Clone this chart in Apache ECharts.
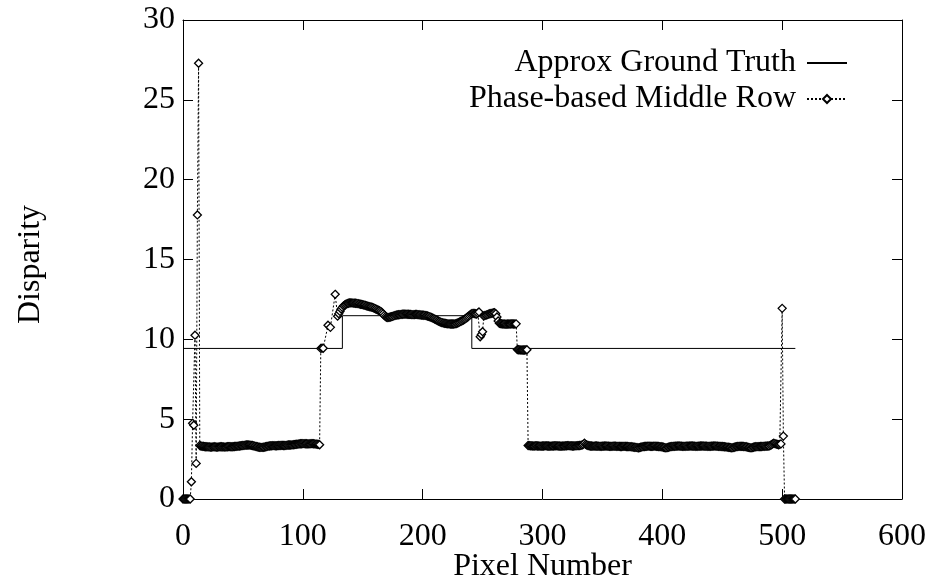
<!DOCTYPE html>
<html>
<head>
<meta charset="utf-8">
<script src="https://cdn.jsdelivr.net/npm/echarts@6/dist/echarts.min.js"></script>
<style>
  html, body { margin: 0; padding: 0; background: #fff; }
  #chart { width: 930px; height: 580px; }
</style>
</head>
<body>
<div id="chart"></div>
<script>
// Axis ticks
const xTicks = [0, 100, 200, 300, 400, 500, 600];
const yTicks = [0, 5, 10, 15, 20, 25, 30];

// Approximate ground truth: step levels starting at each breakpoint
const gtPixel = [0, 133, 241, 511];
const gtDisparity = [9.43, 11.48, 9.43, 9.43];

// Phase-based disparity along the middle row
const leftPixels = [0, 1, 2, 3, 4, 5, 6, 7, 8, 9, 10, 11, 12, 13];
const leftValues = [0, 0, 0, 0, 0, 0, 0, 1.08, 4.74, 4.62, 10.26, 2.23, 17.79, 27.29];

const band1Start = 14; // pixels 14..114
const band1Values = [
  3.35, 3.32, 3.3, 3.3, 3.28, 3.27,
  3.27, 3.26, 3.26, 3.25, 3.25, 3.26, 3.27, 3.26, 3.25, 3.25,
  3.26, 3.27, 3.27, 3.26, 3.26, 3.25, 3.26, 3.27, 3.28, 3.28,
  3.27, 3.27, 3.28, 3.29, 3.3, 3.3, 3.31, 3.32, 3.33, 3.34,
  3.35, 3.36,
  3.37, 3.38, 3.38, 3.38, 3.37, 3.36, 3.35, 3.33, 3.31, 3.29, 3.27,
  3.25, 3.24, 3.23, 3.23, 3.24, 3.25, 3.27, 3.29, 3.31,
  3.32, 3.33, 3.33, 3.34, 3.34, 3.33, 3.33, 3.34, 3.35, 3.35,
  3.36, 3.36, 3.35, 3.35, 3.36, 3.37, 3.38, 3.38, 3.38, 3.39,
  3.4, 3.41, 3.42, 3.43, 3.44,
  3.45, 3.46, 3.46, 3.47, 3.47, 3.46, 3.46, 3.45, 3.45, 3.46,
  3.47, 3.47, 3.46, 3.45, 3.44, 3.43, 3.42, 3.4
];

const risePixels = [115, 116, 117, 121, 123, 127, 129, 130, 131, 132, 133];
const riseValues = [9.43, 9.45, 9.44, 10.88, 10.75, 12.82, 11.45, 11.6, 11.75, 11.9, 12.0];

const humpStart = 134; // pixels 134..247
const humpValues = [
  12.1, 12.15, 12.2, 12.24, 12.26, 12.28,
  12.28, 12.28, 12.27, 12.27, 12.26, 12.25, 12.24, 12.22, 12.2, 12.19,
  12.17, 12.15, 12.13, 12.1, 12.08, 12.06, 12.04, 12.02, 12.0, 11.97,
  11.94, 11.9, 11.86, 11.82, 11.79, 11.74, 11.68, 11.6, 11.5, 11.42,
  11.38, 11.37, 11.38, 11.4, 11.42, 11.44, 11.47, 11.5, 11.52, 11.53,
  11.54, 11.55, 11.56, 11.57, 11.58, 11.58, 11.58, 11.57, 11.57, 11.56,
  11.56, 11.55, 11.55, 11.55, 11.56, 11.56, 11.55, 11.54, 11.53, 11.52,
  11.52, 11.51, 11.5, 11.48, 11.46, 11.44, 11.41, 11.38, 11.34, 11.31,
  11.27, 11.23, 11.19, 11.15, 11.11, 11.08, 11.05, 11.03, 11.01, 11.0,
  10.98, 10.97, 10.97, 10.96, 10.96, 10.96, 10.96, 10.97, 10.99, 11.02,
  11.05, 11.09, 11.13, 11.17, 11.21, 11.26, 11.31, 11.37, 11.43, 11.5,
  11.56, 11.61, 11.63, 11.62, 11.6, 11.58, 11.64, 11.71
];

const fallStart = 248; // pixels 248..287
const fallValues = [
  10.16, 10.3, 10.48,
  11.46, 11.5, 11.52, 11.55, 11.58, 11.6, 11.62, 11.64, 11.66, 11.67, 11.6,
  11.4, 11.15, 11.0,
  10.98, 10.97, 10.96, 10.96, 10.95, 10.95, 10.96, 10.96, 10.96, 10.97,
  10.97, 10.96, 10.96, 10.97,
  9.36, 9.35, 9.34, 9.33, 9.33, 9.33, 9.33, 9.34, 9.35
];

const band2Start = 288; // pixels 288..499
const band2Values = [
  3.35, 3.34, 3.33, 3.33, 3.32, 3.32, 3.33, 3.33, 3.32, 3.32,
  3.31, 3.31, 3.32, 3.32, 3.33, 3.33, 3.32, 3.32, 3.31, 3.31,
  3.32, 3.32, 3.33, 3.33, 3.33, 3.32, 3.32, 3.31, 3.31, 3.32,
  3.32, 3.33, 3.33, 3.34, 3.34, 3.33, 3.33, 3.32, 3.32, 3.33,
  3.33, 3.34, 3.34, 3.35, 3.36, 3.38, 3.42,
  3.49,
  3.42, 3.38, 3.35, 3.33, 3.32, 3.32, 3.31, 3.31, 3.32, 3.32,
  3.31, 3.31, 3.3, 3.3, 3.31, 3.31, 3.32, 3.32, 3.31, 3.31,
  3.3, 3.3, 3.3, 3.31, 3.31, 3.31, 3.3, 3.3, 3.3, 3.29,
  3.29, 3.3, 3.3, 3.3, 3.29, 3.29, 3.28, 3.28, 3.27, 3.26,
  3.25, 3.24, 3.23, 3.22,
  3.2,
  3.22, 3.24, 3.26, 3.28, 3.29, 3.3, 3.3, 3.31, 3.31, 3.3,
  3.3, 3.3, 3.31, 3.31, 3.3, 3.3, 3.29, 3.28, 3.27, 3.26,
  3.24, 3.22,
  3.2, 3.22,
  3.24, 3.26, 3.28, 3.29, 3.3, 3.3, 3.31, 3.31, 3.32, 3.32,
  3.31, 3.31, 3.3, 3.3, 3.3, 3.31, 3.31, 3.31, 3.32, 3.32,
  3.32, 3.31, 3.31, 3.3, 3.3, 3.31, 3.31, 3.32, 3.32, 3.32,
  3.31, 3.31, 3.31, 3.3, 3.3, 3.3, 3.31, 3.31, 3.32, 3.32,
  3.31, 3.31, 3.3, 3.3, 3.29, 3.29, 3.28, 3.27, 3.26, 3.25,
  3.24, 3.23, 3.22,
  3.2,
  3.22, 3.24, 3.26, 3.28, 3.29, 3.3, 3.3, 3.3, 3.3, 3.29, 3.28, 3.27, 3.25, 3.23, 3.22,
  3.2,
  3.22, 3.24, 3.26, 3.27, 3.28, 3.28, 3.28, 3.29, 3.29, 3.3, 3.3, 3.31, 3.31, 3.32,
  3.32, 3.36, 3.4, 3.45, 3.49, 3.47, 3.44, 3.42, 3.4, 3.42, 3.45
];

const tailPixels = [500, 501, 502, 503, 504, 505, 506, 507, 508, 509, 510, 511];
const tailValues = [11.94, 3.94, 0, 0, 0, 0, 0, 0, 0, 0, 0, 0];

// Assemble [pixel, disparity] pairs for the library
function pairs(xs, ys) { return xs.map((x, i) => [x, ys[i]]); }
function run(start, ys) { return ys.map((y, i) => [start + i, y]); }

const gtData = pairs(gtPixel, gtDisparity);
const phaseData = [].concat(
  pairs(leftPixels, leftValues),
  run(band1Start, band1Values),
  pairs(risePixels, riseValues),
  run(humpStart, humpValues),
  run(fallStart, fallValues),
  run(band2Start, band2Values),
  pairs(tailPixels, tailValues)
);

const FONT = 'Liberation Serif';
const FS = 32;

const chart = echarts.init(document.getElementById('chart'), null, { renderer: 'canvas' });

// Frame axes: every side carries inward ticks, only bottom/left carry labels
function frameAxis(extra) {
  return Object.assign({
    type: 'value',
    splitLine: { show: false },
    axisLine: { show: true, onZero: false, lineStyle: { color: '#000', width: 1 } },
    axisTick: { show: true, inside: true, length: 10, lineStyle: { color: '#000', width: 1 } }
  }, extra);
}

const legendCommon = {
  orient: 'vertical', align: 'right', padding: 0,
  itemWidth: 40, itemHeight: 10,
  selectedMode: false,
  textStyle: { fontFamily: FONT, fontSize: FS, color: '#000', padding: [0, 6, 0, 0] }
};

chart.setOption({
  animation: false,
  backgroundColor: '#fff',
  textStyle: { fontFamily: FONT, color: '#000' },
  grid: { left: 183, right: 28, top: 20, bottom: 81, outerBoundsMode: 'none', containLabel: false },
  legend: [
    Object.assign({}, legendCommon, {
      data: ['Approx Ground Truth'],
      right: 82, top: 47,
      itemStyle: { opacity: 0 }
    }),
    Object.assign({}, legendCommon, {
      data: ['Phase-based Middle Row'],
      right: 82, top: 83
    })
  ],
  xAxis: [
    frameAxis({
      position: 'bottom', min: 0, max: 600, interval: 100,
      name: 'Pixel Number', nameLocation: 'middle', nameGap: 52, nameMoveOverlap: false,
      nameTextStyle: { fontFamily: FONT, fontSize: FS, color: '#000' },
      axisLabel: {
        fontFamily: FONT, fontSize: FS, color: '#000', margin: 22,
        formatter: v => (xTicks.indexOf(v) >= 0 ? String(v) : '')
      }
    }),
    frameAxis({
      position: 'top', min: 0, max: 600, interval: 100,
      axisLabel: { show: false }
    })
  ],
  yAxis: [
    frameAxis({
      position: 'left', min: 0, max: 30, interval: 5,
      name: 'Disparity', nameLocation: 'middle', nameGap: 136, nameRotate: 90,
      nameTextStyle: { fontFamily: FONT, fontSize: FS, color: '#000', padding: [0, 10, 0, 0] },
      axisLabel: {
        fontFamily: FONT, fontSize: FS, color: '#000', margin: 8,
        formatter: v => (yTicks.indexOf(v) >= 0 ? String(v) : '')
      }
    }),
    frameAxis({
      position: 'right', min: 0, max: 30, interval: 5,
      axisLabel: { show: false }
    })
  ],
  series: [
    {
      name: 'Approx Ground Truth',
      type: 'line',
      step: 'end',
      data: gtData,
      symbol: 'none',
      clip: false,
      lineStyle: { color: '#000', width: 1 },
      itemStyle: { color: '#000' },
      emphasis: { disabled: true },
      silent: true
    },
    {
      name: 'Phase-based Middle Row',
      type: 'line',
      data: phaseData,
      symbol: 'diamond',
      symbolSize: 8,
      showSymbol: true,
      clip: false,
      lineStyle: { color: '#000', width: 1, type: [2, 2] },
      itemStyle: { color: '#fff', borderColor: '#000', borderWidth: 1.3 },
      emphasis: { disabled: true },
      silent: true
    }
  ]
});
</script>
</body>
</html>
